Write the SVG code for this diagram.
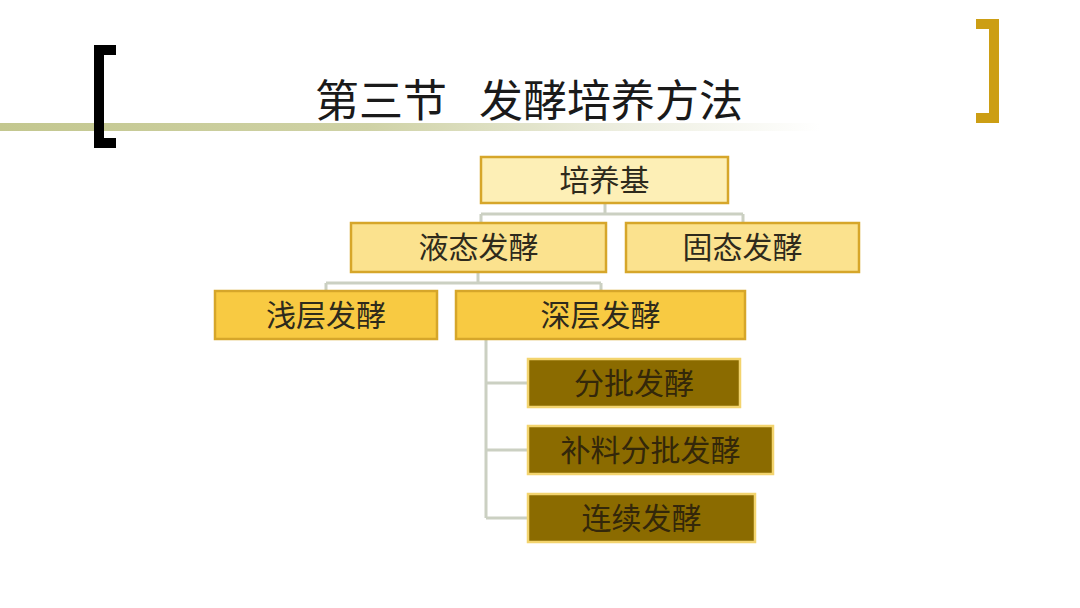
<svg xmlns="http://www.w3.org/2000/svg" width="1080" height="608" viewBox="0 0 1080 608">
<defs>
<linearGradient id="rule" x1="0" y1="0" x2="1" y2="0">
<stop offset="0" stop-color="#c3c78f"/>
<stop offset="0.45" stop-color="#cfd2a6"/>
<stop offset="0.75" stop-color="#ecedde"/>
<stop offset="1" stop-color="#ffffff"/>
</linearGradient>
<style>
.t{font-family:"Liberation Serif","Noto Sans CJK SC",serif;text-anchor:middle;dominant-baseline:central;}
.n{font-size:30px;fill:#2e2a1c;}
.d{font-size:30px;fill:#33270a;}
.b{stroke:#d6a62a;stroke-width:2.5;}
.l0{fill:#fdefb6;}
.l1{fill:#fbe28e;}
.l2{fill:#f8ca42;}
.l3{fill:#8b6b00;stroke:#f3d46e;stroke-width:2.5;}
.c{fill:none;stroke:#cbd0c2;stroke-width:3;}
</style>
</defs>
<rect width="1080" height="608" fill="#ffffff"/>
<g id="decor">
<rect x="0" y="123" width="820" height="8" fill="url(#rule)"/>
<path d="M116 45 H94 V148 H116 V138 H104 V55 H116 Z" fill="#000000"/>
<path d="M976 19 H999 V123 H976 V113 H989 V29 H976 Z" fill="#cc9e14"/>
</g>
<g id="title">
<text font-family="Liberation Serif,Noto Sans CJK SC,serif" font-size="44" fill="#1a1a1a"><tspan x="315" y="117">第三节</tspan><tspan x="479" y="117">发酵培养方法</tspan></text>
</g>
<g id="connectors">
<path class="c" d="M605 203 V214 M481 214 H743 M481 214 V223 M743 214 V223"/>
<path class="c" d="M478 272 V283 M326 283 H601 M326 283 V291 M601 283 V291"/>
<path class="c" d="M486 339 V518 M486 383 H528 M486 450 H528 M486 518 H528"/>
</g>
<g id="n-peiyangji">
<rect class="l0 b" x="481" y="157" width="247" height="46"/>
<text class="t n" x="604.5" y="180">培养基</text>
</g>
<g id="n-yetai">
<rect class="l1 b" x="351" y="223" width="255" height="49"/>
<text class="t n" x="478.5" y="247.5">液态发酵</text>
</g>
<g id="n-gutai">
<rect class="l1 b" x="626" y="223" width="233" height="49"/>
<text class="t n" x="742.5" y="247.5">固态发酵</text>
</g>
<g id="n-qianceng">
<rect class="l2 b" x="215" y="291" width="222" height="48"/>
<text class="t n" x="326" y="315">浅层发酵</text>
</g>
<g id="n-shenceng">
<rect class="l2 b" x="456" y="291" width="289" height="48"/>
<text class="t n" x="600.5" y="315">深层发酵</text>
</g>
<g id="n-fenpi">
<rect class="l3" x="528" y="359" width="212" height="48"/>
<text class="t d" x="634" y="383">分批发酵</text>
</g>
<g id="n-buliao">
<rect class="l3" x="528" y="426" width="245" height="48"/>
<text class="t d" x="650.5" y="450">补料分批发酵</text>
</g>
<g id="n-lianxu">
<rect class="l3" x="528" y="494" width="227" height="48"/>
<text class="t d" x="641.5" y="518">连续发酵</text>
</g>
</svg>
